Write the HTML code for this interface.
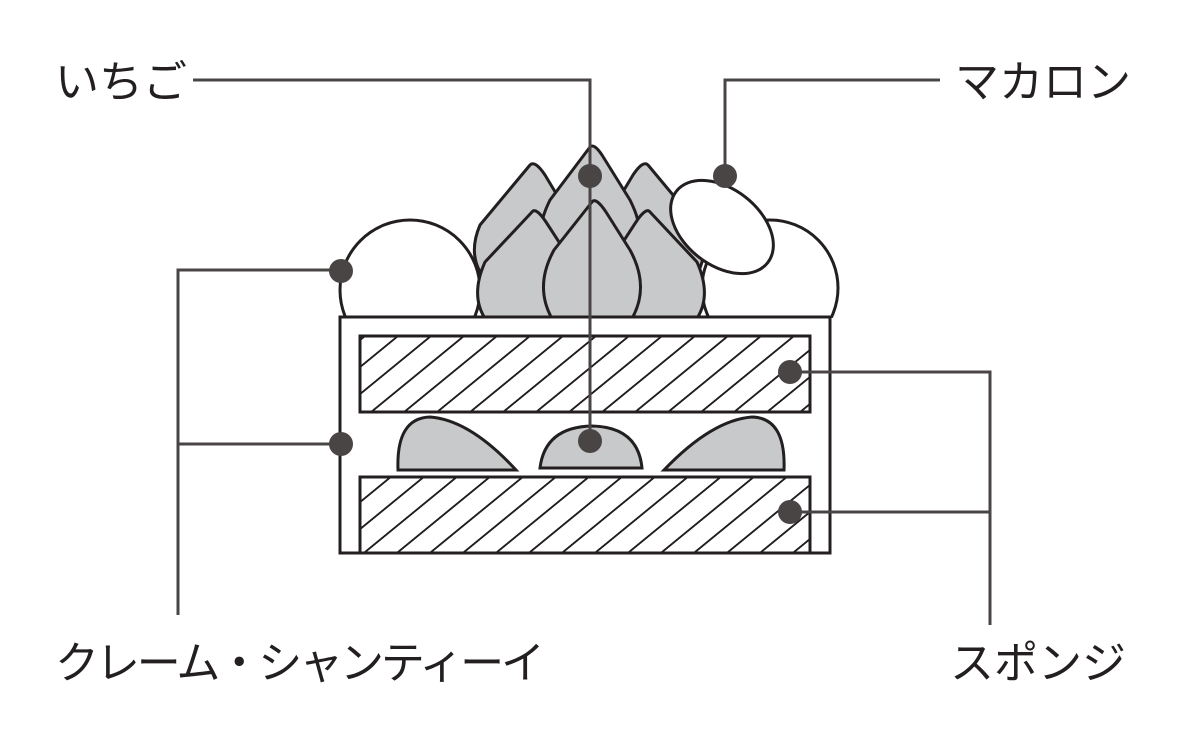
<!DOCTYPE html>
<html><head><meta charset="utf-8"><style>
html,body{margin:0;padding:0;background:#fff;}
svg{display:block}
text{font-family:"Liberation Sans","Noto Sans CJK JP",sans-serif;font-size:44px;fill:#231f20;}
</style></head><body>
<svg width="1200" height="752" viewBox="0 0 1200 752">
<defs>
<pattern id="h" patternUnits="userSpaceOnUse" width="33" height="100" patternTransform="skewX(-50.7)">
<rect width="33" height="100" fill="#fff"/>
<line x1="16.5" y1="0" x2="16.5" y2="100" stroke="#231f20" stroke-width="3"/>
</pattern>
<clipPath id="top"><rect x="0" y="0" width="1200" height="318"/></clipPath>
</defs>
<g stroke="#231f20" stroke-width="3" clip-path="url(#top)">
<circle cx="410" cy="290" r="70" fill="#fff"/>
<circle cx="770" cy="288" r="68" fill="#fff"/>
<g fill="#c8c9ca" stroke-linejoin="round">
<path d="M530 165 Q535 160 545 175 L575 225 Q590 270 560 285 L490 285 Q465 260 480 225 Z"/>
<path d="M648 165 Q643 160 633 175 L603 225 Q588 270 618 285 L688 285 Q713 260 698 225 Z"/>
<path d="M590 147 Q594 143 602 155 L630 200 Q650 240 630 262 L552 262 Q530 240 550 200 Z"/>
<path d="M532 212 Q536 207 546 222 L572 262 Q590 300 570 325 L490 325 Q468 300 485 262 Z"/>
<path d="M650 212 Q646 207 636 222 L610 262 Q592 300 612 325 L692 325 Q714 300 697 262 Z"/>
<path d="M592 202 Q596 197 606 212 L630 250 Q652 290 628 325 L556 325 Q532 290 554 250 Z"/>
</g>
<ellipse cx="722" cy="227" rx="58" ry="38" transform="rotate(38 722 227)" fill="#fff"/>
</g>
<g stroke="#231f20" stroke-width="3">
<rect x="340" y="317" width="490" height="236" fill="#fff"/>
<rect x="360" y="336" width="450" height="76" fill="url(#h)"/>
<rect x="360" y="477" width="450" height="76" fill="url(#h)"/>
<g fill="#c8c9ca">
<path d="M398 470 Q396 418 430 417 Q470 420 516 470 Z"/>
<path d="M540 468 Q545 427 592 426 Q638 427 642 468 Z"/>
<path d="M784 470 Q786 418 752 417 Q712 420 664 470 Z"/>
</g>
</g>
<g stroke="#4a4545" stroke-width="3" fill="none">
<polyline points="193,80 590,80 590,437"/>
<polyline points="940,80 725,80 725,176"/>
<polyline points="341,270 178,270 178,615"/>
<line x1="178" y1="444" x2="341" y2="444"/>
<polyline points="790,372 990,372 990,625"/>
<line x1="790" y1="512" x2="990" y2="512"/>
</g>
<g fill="#4a4545">
<circle cx="590" cy="176" r="12"/><circle cx="590" cy="441" r="12"/>
<circle cx="725" cy="176" r="12"/>
<circle cx="341" cy="271" r="12"/><circle cx="341" cy="444" r="12"/>
<circle cx="790" cy="372" r="12"/><circle cx="790" cy="512" r="12"/>
</g>
<text x="55" y="97">いちご</text>
<text x="955" y="97">マカロン</text>
<text x="55" y="678" textLength="490">クレーム・シャンティーイ</text>
<text x="950" y="678">スポンジ</text>
</svg>
</body></html>
